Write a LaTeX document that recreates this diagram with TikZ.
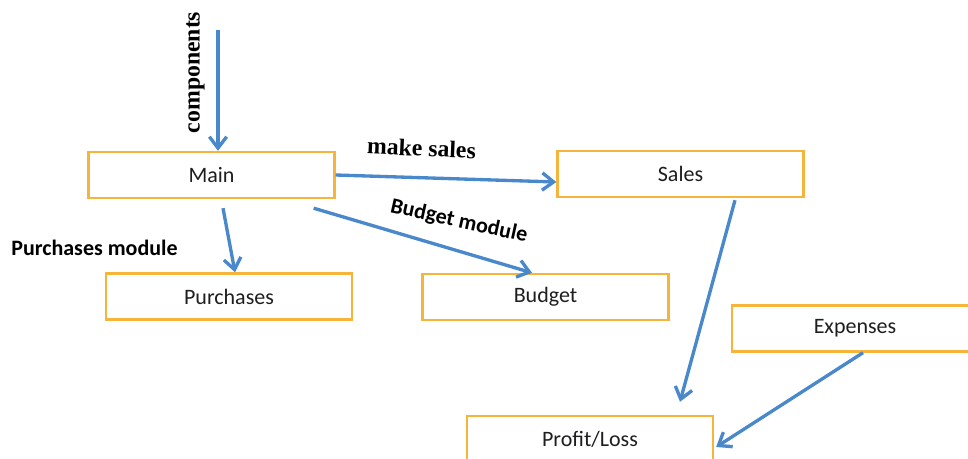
\documentclass[tikz,border=0pt]{standalone}
\usepackage{fontspec}
\setmainfont{Carlito}
\newfontfamily\serifbold{Liberation Serif}
\usetikzlibrary{arrows.meta,calc}

\definecolor{boxorange}{RGB}{246,180,58}
\definecolor{flowblue}{RGB}{74,136,204}
\definecolor{boxtext}{RGB}{30,30,30}

\tikzset{every picture/.style={line width=0.75pt}}
\tikzset{
  modbox/.style={draw=boxorange, line width=1.8pt, fill=white, minimum width=184.5pt,
    minimum height=34.5pt, inner sep=0pt, text=boxtext, font=\fontsize{16.5}{19}\selectfont},
  flow/.style={draw=flowblue, line width=2.5pt,
    -{Straight Barb[length=8.5pt,width=13pt,line width=2.5pt]}},
  sanslabel/.style={inner sep=0pt, font=\fontsize{16.5}{19}\selectfont\bfseries},
  seriflabel/.style={inner sep=0pt, font=\fontsize{17.8}{20}\selectfont\serifbold\bfseries}
}

\begin{document}
\begin{tikzpicture}[x=0.75pt,y=0.75pt,yscale=-1,xscale=1]
\useasboundingbox (0,0) rectangle (968,459);
\clip (0,0) rectangle (968,459);

%Shape: Rectangle [Main]
\node [modbox] (main) at (211.5,175) {Main};
%Shape: Rectangle [Sales]
\node [modbox] (sales) at (680.5,174) {Sales};
%Shape: Rectangle [Purchases]
\node [modbox] (purchases) at (229,296.5) {Purchases};
%Shape: Rectangle [Budget]
\node [modbox] (budget) at (545.5,297) {Budget};
%Shape: Rectangle [Expenses]
\node [modbox] (expenses) at (855,328.5) {Expenses};
%Shape: Rectangle [Profit/Loss]
\node [modbox] (profit) at (590,439) {Profit/Loss};

%Straight Lines [components]
\coordinate (compIn) at (218,30);
\draw [flow] (compIn) -- (compIn |- main.north);
%Straight Lines [make sales]
\draw [flow] (main.east) -- ($(sales.west)+(0,8)$);
%Straight Lines [purchases module]
\draw [flow] ($(main.south)+(11.5,9)$) -- ($(purchases.north)+(6,0)$);
%Straight Lines [budget module]
\draw [flow] ($(main.south east)+(-22,9)$) -- ($(budget.north)+(-13.5,0)$);
%Straight Lines [sales to profit]
\draw [flow] ($(sales.south)+(54.5,2)$) -- ($(profit.north)+(90,-13)$);
%Straight Lines [expenses to profit]
\draw [flow] ($(expenses.south)+(8,0)$) -- ($(profit.east)+(2,8)$);

% Text Node
\node [seriflabel, rotate=90] (compLabel) at (195.5,72.5) {components};
% Text Node
\node [seriflabel, rotate=-2.5] (salesLabel) at (421.5,148) {make sales};
% Text Node
\node [sanslabel, rotate=-12.5] (budgetLabel) at (459,221.5) {Budget module};
% Text Node
\node [sanslabel] (purchLabel) at (94.5,248) {Purchases module};

\end{tikzpicture}
\end{document}
